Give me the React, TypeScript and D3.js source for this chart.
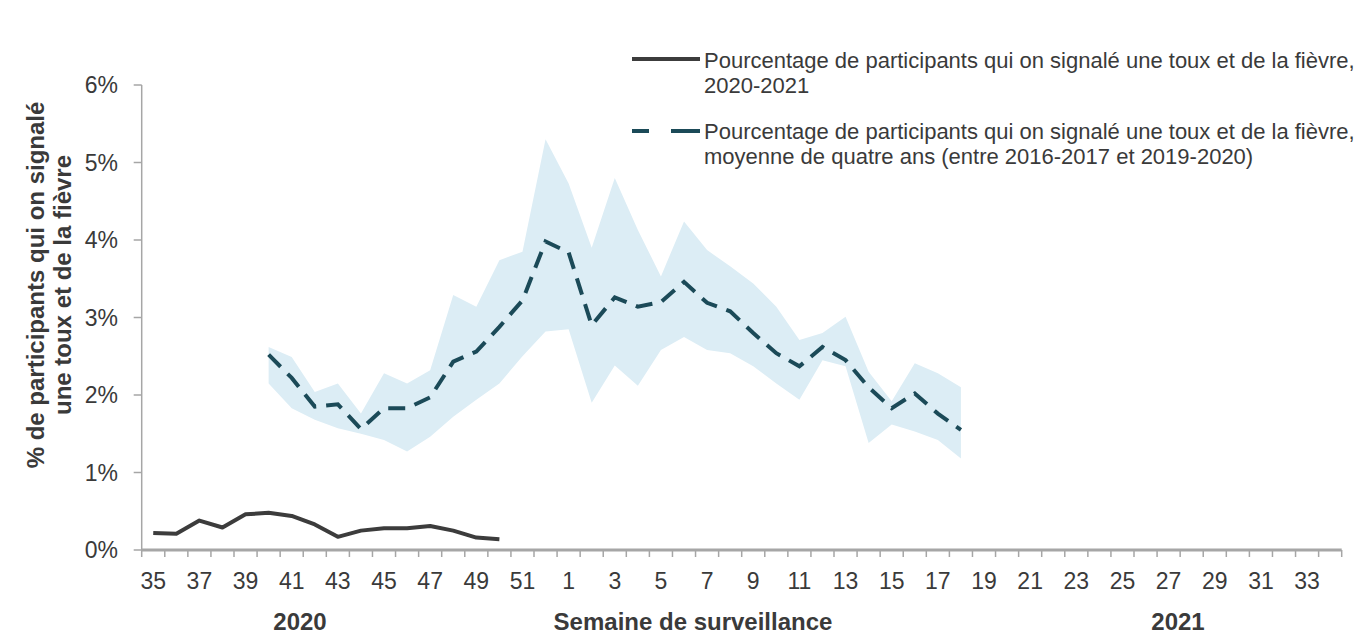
import { area, line, scaleBand, scaleLinear } from "d3";

// semaines de surveillance 35 (2020) -> 34 (2021)
const weeks = [
  "35", "36", "37", "38", "39", "40", "41", "42", "43", "44", "45", "46", "47", "48", "49", "50", "51", "52",
  "1", "2", "3", "4", "5", "6", "7", "8", "9", "10", "11", "12", "13", "14", "15", "16", "17",
  "18", "19", "20", "21", "22", "23", "24", "25", "26", "27", "28", "29", "30", "31", "32", "33", "34",
];

const yTicks = [0, 1, 2, 3, 4, 5, 6];

// 2020-2021, semaines 35 à 50
const current = [0.22, 0.21, 0.38, 0.29, 0.46, 0.48, 0.44, 0.33, 0.17, 0.25, 0.28, 0.28, 0.31, 0.25, 0.16, 0.14];

// moyenne de quatre ans, semaines 40 à 18
const avgWeeks = [
  "40", "41", "42", "43", "44", "45", "46", "47", "48", "49", "50", "51", "52",
  "1", "2", "3", "4", "5", "6", "7", "8", "9", "10", "11", "12", "13", "14", "15", "16", "17", "18",
];
const average = [
  2.52, 2.22, 1.85, 1.88, 1.56, 1.83, 1.83, 1.97, 2.43, 2.56, 2.88, 3.22, 3.98,
  3.84, 2.9, 3.26, 3.14, 3.2, 3.46, 3.19, 3.08, 2.8, 2.54, 2.37, 2.62, 2.45, 2.1, 1.83, 2.02, 1.76, 1.55,
];
const rangeHigh = [
  2.62, 2.49, 2.04, 2.15, 1.76, 2.28, 2.15, 2.32, 3.29, 3.14, 3.74, 3.85, 5.3,
  4.73, 3.9, 4.8, 4.13, 3.53, 4.24, 3.87, 3.66, 3.44, 3.14, 2.71, 2.8, 3.01, 2.3, 1.92, 2.41, 2.28, 2.1,
];
const rangeLow = [
  2.15, 1.83, 1.68, 1.57, 1.5, 1.42, 1.27, 1.46, 1.72, 1.94, 2.15, 2.5, 2.82,
  2.85, 1.9, 2.38, 2.12, 2.58, 2.75, 2.58, 2.54, 2.37, 2.15, 1.94, 2.45, 2.37, 1.38, 1.62, 1.53, 1.42, 1.18,
];

const legendLabels = [
  ["Pourcentage de participants qui on signalé une toux et de la fièvre,", "2020-2021"],
  ["Pourcentage de participants qui on signalé une toux et de la fièvre,", "moyenne de quatre ans (entre 2016-2017 et 2019-2020)"],
];

const FONT = "'Liberation Sans', Arial, sans-serif";
const AXIS = "#a6a6a6";
const TEXT = "#3a3a3a";
const SOLID = "#3c3c3c";
const DASH = "#1b4a58";
const BAND = "#dcedf5";

const App = () => {
  const width = 1369;
  const height = 640;

  const xScale = scaleBand().domain(weeks).range([141.7, 1341.7]).padding(0);
  const yScale = scaleLinear().domain([0, 6]).range([550, 85]);
  const cx = (w: string) => xScale(w)! + xScale.bandwidth() / 2;

  const bandPath = area<number>()
    .x((_, i) => cx(avgWeeks[i]))
    .y0((_, i) => yScale(rangeLow[i]))
    .y1((d) => yScale(d))(rangeHigh);

  const avgPath = line<number>()
    .x((_, i) => cx(avgWeeks[i]))
    .y((d) => yScale(d))(average);

  const curPath = line<number>()
    .x((_, i) => cx(weeks[i]))
    .y((d) => yScale(d))(current);

  const [x0, x1] = xScale.range();

  return (
    <svg width={width} height={height} style={{ position: "absolute", left: 0, top: 0, background: "#fff" }} fontFamily={FONT}>
      <path d={bandPath!} fill={BAND} />
      <path d={avgPath!} fill="none" stroke={DASH} strokeWidth={4} strokeDasharray="17 10" />
      <path d={curPath!} fill="none" stroke={SOLID} strokeWidth={4} strokeLinejoin="round" />

      {/* axe Y */}
      <line x1={x0} x2={x0} y1={yScale(6)} y2={yScale(0)} stroke={AXIS} strokeWidth={1.5} />
      {yTicks.map((t) => (
        <g key={`yt-${t}`}>
          <line x1={x0 - 8} x2={x0} y1={yScale(t)} y2={yScale(t)} stroke={AXIS} strokeWidth={1.5} />
          <text x={118} y={yScale(t)} dy="0.35em" textAnchor="end" fontSize={23} fill={TEXT}>
            {`${t}%`}
          </text>
        </g>
      ))}

      {/* axe X */}
      {[...weeks.map((w) => xScale(w)!), x1].map((x, i) => (
        <line key={`xt-${i}`} x1={x} x2={x} y1={yScale(0)} y2={yScale(0) + 7} stroke={AXIS} strokeWidth={1.5} />
      ))}
      <line x1={x0} x2={x1} y1={yScale(0)} y2={yScale(0)} stroke={AXIS} strokeWidth={3} />
      {weeks.map((w, i) =>
        i % 2 === 0 ? (
          <text key={`xl-${w}`} x={cx(w)} y={589} textAnchor="middle" fontSize={23} fill={TEXT}>
            {w}
          </text>
        ) : null
      )}
      <text x={300} y={630} textAnchor="middle" fontSize={24} fontWeight="bold" fill={TEXT}>2020</text>
      <text x={693} y={630} textAnchor="middle" fontSize={24} fontWeight="bold" fill={TEXT}>Semaine de surveillance</text>
      <text x={1178} y={630} textAnchor="middle" fontSize={24} fontWeight="bold" fill={TEXT}>2021</text>

      {/* titre Y */}
      <g transform="translate(44,285) rotate(-90)">
        <text textAnchor="middle" fontSize={24} fontWeight="bold" fill={TEXT}>% de participants qui on signalé</text>
        <text y={27} textAnchor="middle" fontSize={24} fontWeight="bold" fill={TEXT}>une toux et de la fièvre</text>
      </g>

      {/* légende */}
      <line x1={632} x2={700} y1={59} y2={59} stroke={SOLID} strokeWidth={4} />
      <line x1={632} x2={700} y1={131} y2={131} stroke={DASH} strokeWidth={4} strokeDasharray="17 22 29" />
      {legendLabels.map((lines, k) => (
        <text key={`lg-${k}`} x={704} y={68 + k * 71} fontSize={22} fill={TEXT}>
          {lines.map((s, j) => (
            <tspan key={j} x={704} dy={j === 0 ? 0 : 25}>
              {s}
            </tspan>
          ))}
        </text>
      ))}
    </svg>
  );
};

export default App;
